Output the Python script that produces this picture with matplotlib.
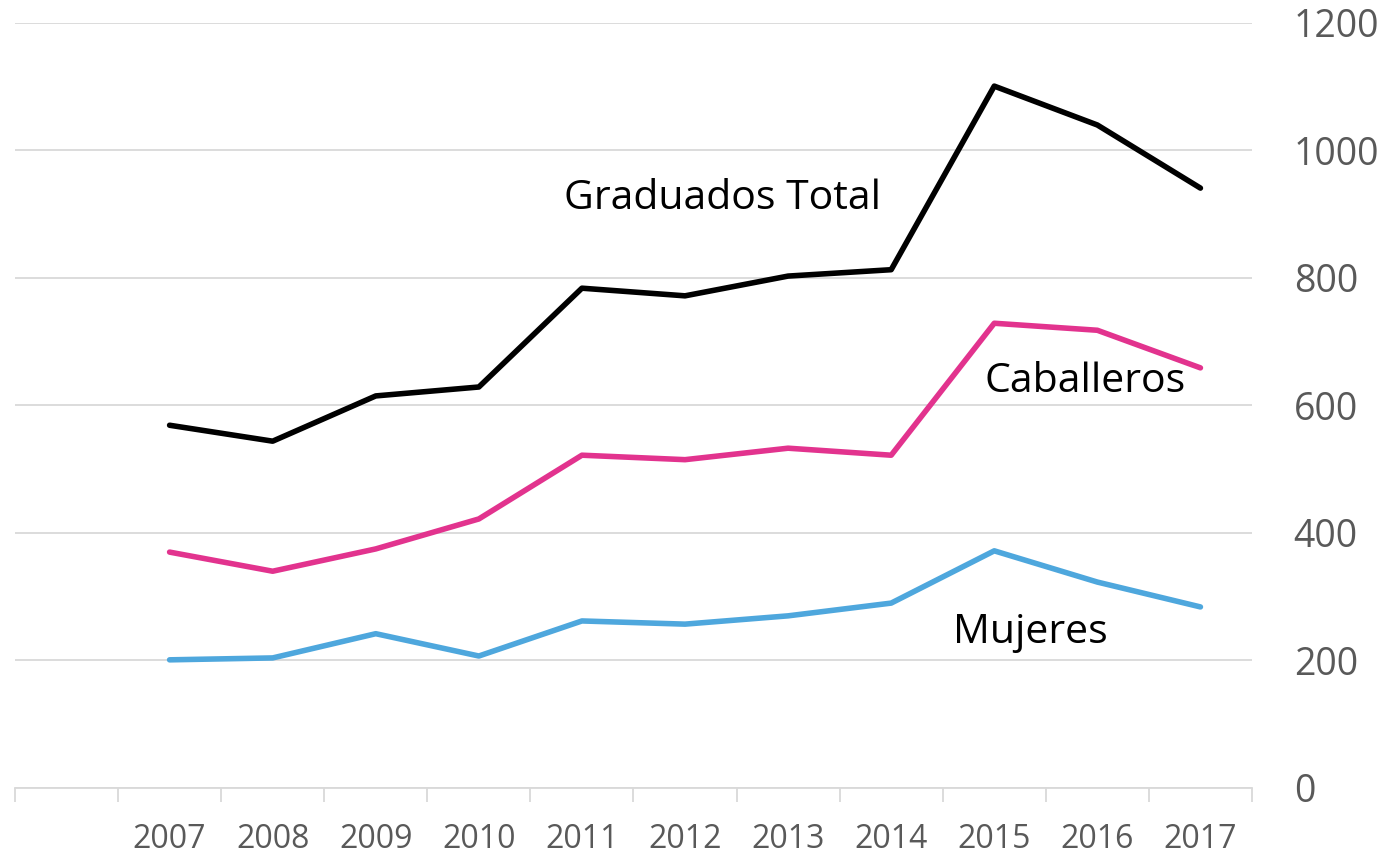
import numpy as np
import matplotlib
matplotlib.use('Agg')
import matplotlib.pyplot as plt
from matplotlib import ticker

plt.rcParams['font.family'] = ['Open Sans', 'DejaVu Sans']

# primera categoría vacía, como en el gráfico original
years = ['', '2007', '2008', '2009', '2010', '2011', '2012', '2013', '2014', '2015', '2016', '2017']
total = [569, 544, 615, 629, 784, 772, 803, 813, 1101, 1040, 941]
caballeros = [370, 340, 375, 422, 522, 515, 533, 522, 729, 718, 659]
mujeres = [201, 204, 242, 207, 262, 257, 270, 290, 372, 323, 284]

fig = plt.figure(figsize=(13.86, 8.55), dpi=100)
ax = fig.add_axes([0.0108, 0.0784, 0.8925, 0.8947])

x = np.arange(1, len(years))
ax.plot(x, total, color='black', lw=4, solid_capstyle='round', solid_joinstyle='round')
ax.plot(x, caballeros, color='#e2338e', lw=4, solid_capstyle='round', solid_joinstyle='round')
ax.plot(x, mujeres, color='#4ea7dd', lw=4, solid_capstyle='round', solid_joinstyle='round')

ax.text(6.36, 925, 'Graduados Total', fontsize=29.5, ha='center', va='center', color='black')
ax.text(9.88, 637, 'Caballeros', fontsize=29.5, ha='center', va='center', color='black')
ax.text(9.35, 243, 'Mujeres', fontsize=29.5, ha='center', va='center', color='black')

ax.set_xlim(-0.5, len(years) - 0.5)
ax.set_ylim(0, 1200)
ax.yaxis.set_major_locator(ticker.MultipleLocator(200))
ax.yaxis.tick_right()
ax.grid(axis='y', color='#d9d9d9', lw=1.3)
ax.set_axisbelow(True)

ax.set_xticks(np.arange(len(years)))
ax.set_xticklabels(years)
ax.set_xticks(np.arange(-0.5, len(years)), minor=True)
ax.tick_params(axis='x', which='major', length=0, pad=25, labelsize=23, labelcolor='#595959')
ax.tick_params(axis='x', which='minor', length=10, width=1.3, color='#d9d9d9')
ax.tick_params(axis='y', length=0, pad=30, labelsize=27, labelcolor='#595959')

for s in ['top', 'left', 'right']:
    ax.spines[s].set_visible(False)
ax.spines['bottom'].set_color('#d9d9d9')
ax.spines['bottom'].set_linewidth(1.3)

fig.savefig('out.png', dpi=100)
